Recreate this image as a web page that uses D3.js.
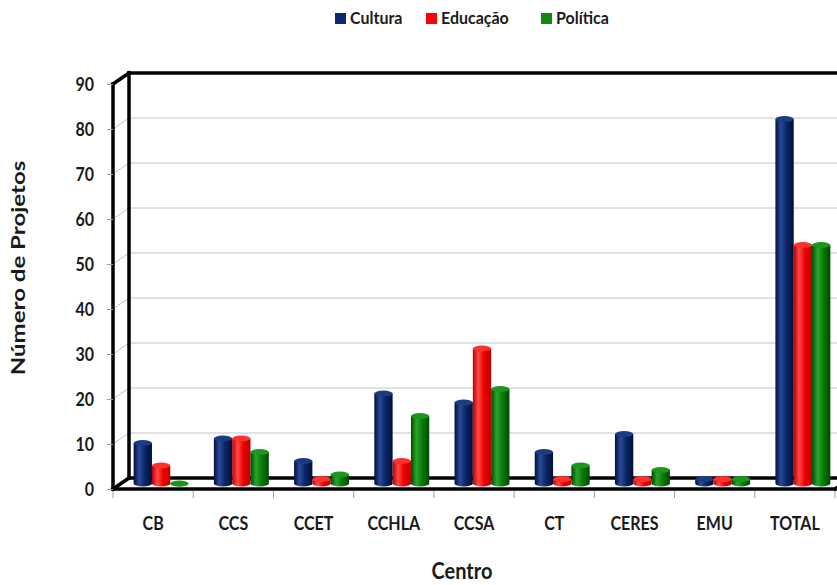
<!DOCTYPE html>
<html>
<head>
<meta charset="utf-8">
<script src="https://cdn.jsdelivr.net/npm/d3@7"></script>
<style>
  html, body { margin: 0; padding: 0; background: #fff; }
  svg { display: block; }
  text { font-family: Lato, "Open Sans", sans-serif; font-weight: bold; fill: #1a1a1a; }
</style>
</head>
<body>
<svg id="chart" width="837" height="585"></svg>
<script>
// Projects per centre, by theme
const categories = ["CB", "CCS", "CCET", "CCHLA", "CCSA", "CT", "CERES", "EMU", "TOTAL"];
const seriesNames = ["Cultura", "Educação", "Política"];
const cultura  = [9, 10, 5, 20, 18, 7, 11, 1, 81];
const educacao = [4, 10, 1, 5, 30, 1, 1, 1, 53];
const politica = [0, 7, 2, 15, 21, 4, 3, 1, 53];
const yTicks = [0, 10, 20, 30, 40, 50, 60, 70, 80, 90];

const seriesValues = [cultura, educacao, politica];
const palette = {
  "Cultura":  { dark: "#000f38", mid: "#0a2766", light: "#2a4a96", cap: "#1d3b82", swatch: "#0b2a6b" },
  "Educação": { dark: "#b80000", mid: "#f00000", light: "#ff4a4a", cap: "#ff3030", swatch: "#ff0000" },
  "Política": { dark: "#004a00", mid: "#0a7d0a", light: "#2aa52a", cap: "#1c961c", swatch: "#118a11" }
};

const svg = d3.select("#chart");
const W = 837, H = 585;
const stretch = 1.2; // text is drawn slightly tall

// 3D box geometry: front plane + depth offset for back wall
const front = { left: 113, right: 835, top: 84, bottom: 489 };
const depth = { dx: 16, dy: -11 };

const x = d3.scaleBand().domain(categories).range([front.left, front.right]).padding(0);
const xSub = d3.scaleBand().domain(seriesNames).range([0, x.bandwidth()]).paddingInner(0).paddingOuter(0.69);
const y = d3.scaleLinear().domain([0, 90]).range([front.bottom, front.top]);

const defs = svg.append("defs");
seriesNames.forEach((s, i) => {
  const c = palette[s];
  const g = defs.append("linearGradient").attr("id", "grad" + i).attr("x1", 0).attr("x2", 1).attr("y1", 0).attr("y2", 0);
  g.append("stop").attr("offset", "0%").attr("stop-color", c.dark);
  g.append("stop").attr("offset", "30%").attr("stop-color", c.light);
  g.append("stop").attr("offset", "60%").attr("stop-color", c.mid);
  g.append("stop").attr("offset", "100%").attr("stop-color", c.dark);
});

// Back wall gridlines
const grid = svg.append("g").attr("stroke", "#c4c4c4").attr("stroke-width", 1);
yTicks.filter(v => v > 0 && v < 90).forEach(v => {
  grid.append("line")
    .attr("x1", front.left + depth.dx).attr("x2", W + 20)
    .attr("y1", y(v) + depth.dy).attr("y2", y(v) + depth.dy);
  grid.append("line")
    .attr("x1", front.left).attr("x2", front.left + depth.dx)
    .attr("y1", y(v)).attr("y2", y(v) + depth.dy);
});

// Frame of the box
const frame = svg.append("g").attr("stroke", "#000").attr("stroke-width", 3.5).attr("fill", "none")
  .attr("stroke-linecap", "square");
const bx = front.left + depth.dx;
const topBack = y(90) + depth.dy, floorBack = y(0) + depth.dy;
frame.append("line").attr("x1", bx).attr("x2", W + 20).attr("y1", topBack).attr("y2", topBack);
frame.append("line").attr("x1", bx).attr("x2", bx).attr("y1", topBack).attr("y2", floorBack);
frame.append("line").attr("x1", bx).attr("x2", W + 20).attr("y1", floorBack).attr("y2", floorBack);
frame.append("line").attr("x1", front.left).attr("x2", bx).attr("y1", y(90)).attr("y2", topBack);

// Cylindrical bars, standing at mid-depth of the floor
const bars = svg.append("g");
const ry = 3;
seriesNames.forEach((s, si) => {
  const c = palette[s];
  categories.forEach((cat, ci) => {
    const v = seriesValues[si][ci];
    const x0 = x(cat) + depth.dx / 2 + xSub(s);
    const w = xSub.bandwidth();
    const yb = y(0) + depth.dy / 2;
    const yt = y(v) + depth.dy / 2;
    const rx = w / 2;
    const body = `M${x0},${yt} L${x0},${yb} A${rx},${ry} 0 0 0 ${x0 + w},${yb} L${x0 + w},${yt} Z`;
    bars.append("path").attr("d", body).attr("fill", `url(#grad${si})`);
    bars.append("ellipse").attr("cx", x0 + rx).attr("cy", yt).attr("rx", rx).attr("ry", ry)
      .attr("fill", c.cap);
  });
});

// Front edges of the box drawn over the floor
const frontEdges = svg.append("g").attr("stroke", "#000").attr("stroke-width", 3.5).attr("stroke-linecap", "square");
frontEdges.append("line").attr("x1", front.left).attr("x2", front.left).attr("y1", y(90)).attr("y2", y(0));
frontEdges.append("line").attr("x1", front.left).attr("x2", front.right).attr("y1", y(0)).attr("y2", y(0));
frontEdges.append("line").attr("x1", front.left).attr("x2", bx).attr("y1", y(0)).attr("y2", floorBack);
frontEdges.append("line").attr("x1", front.right).attr("x2", front.right + depth.dx).attr("y1", y(0)).attr("y2", floorBack);

// Y axis: ticks and labels
const yAxis = svg.append("g").attr("transform", `translate(${front.left},0)`)
  .call(d3.axisLeft(y).tickValues(yTicks).tickSize(6).tickPadding(0));
yAxis.select(".domain").remove();
yAxis.selectAll(".tick line").attr("stroke", "#a0a0a0");
yAxis.selectAll(".tick text")
  .attr("x", 0).attr("dy", null)
  .attr("transform", `translate(-19,6) scale(1,${stretch})`)
  .style("font-size", "16px").style("font-family", "Lato, sans-serif")
  .style("font-weight", "bold").attr("fill", "#1a1a1a");

// X axis: boundary ticks and category labels
const xAxisG = svg.append("g").attr("stroke", "#a0a0a0").attr("stroke-width", 1);
categories.forEach(cat => {
  xAxisG.append("line").attr("x1", x(cat)).attr("x2", x(cat)).attr("y1", y(0) + 2).attr("y2", y(0) + 9);
});
xAxisG.append("line").attr("x1", front.right).attr("x2", front.right).attr("y1", y(0) + 2).attr("y2", y(0) + 9);

svg.append("g").selectAll("text").data(categories).join("text")
  .attr("transform", d => `translate(${x(d) + x.bandwidth() / 2},530) scale(1,${stretch})`)
  .attr("text-anchor", "middle")
  .style("font-size", "16px")
  .text(d => d);

// Axis titles
svg.append("text").attr("transform", `translate(462,579) scale(1,1.15)`).attr("text-anchor", "middle")
  .style("font-size", "20px").text("Centro");
svg.append("text").attr("transform", `translate(25,268) scale(1,1.3) rotate(-90)`).attr("text-anchor", "middle")
  .style("font-size", "18.5px").text("Número de Projetos");

// Legend
const legendX = [335, 426, 541];
const legend = svg.append("g");
seriesNames.forEach((s, i) => {
  legend.append("rect").attr("x", legendX[i]).attr("y", 13).attr("width", 11).attr("height", 11)
    .attr("fill", palette[s].swatch);
  legend.append("text").attr("transform", `translate(${legendX[i] + 15},24) scale(1,1.1)`)
    .style("font-size", "16px").text(s);
});
</script>
</body>
</html>
